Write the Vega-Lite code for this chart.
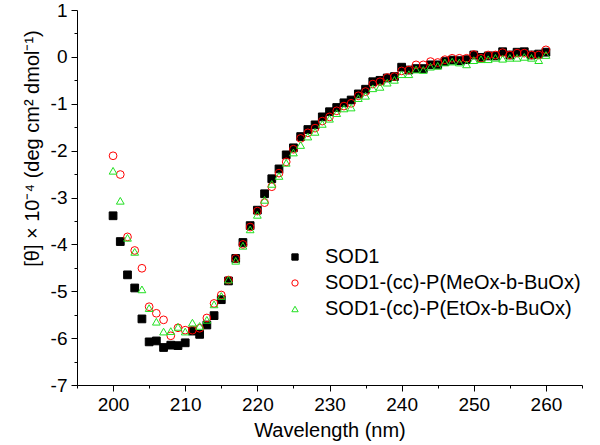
{
  "$schema": "https://vega.github.io/schema/vega-lite/v6.json",
  "width": 505,
  "height": 375,
  "autosize": {"type": "none"},
  "padding": {"left": 77, "top": 10, "right": 18, "bottom": 60},
  "background": "white",
  "config": {
    "view": {"stroke": null},
    "font": "Liberation Sans",
    "axis": {
      "domainColor": "black",
      "tickColor": "black",
      "labelColor": "black",
      "titleColor": "black",
      "labelFont": "Liberation Sans",
      "titleFont": "Liberation Sans",
      "labelFontSize": 19,
      "titleFontSize": 20,
      "titleFontWeight": "normal",
      "grid": false
    },
    "legend": {
      "orient": "none",
      "legendX": 208,
      "legendY": 237,
      "labelFontSize": 20,
      "labelFont": "Liberation Sans",
      "labelColor": "black",
      "labelOffset": 20,
      "labelLimit": 0,
      "rowPadding": 6,
      "symbolSize": 40,
      "symbolStrokeWidth": 1,
      "title": null
    }
  },
  "data": {
    "values": [
      {"w":200,"v":-3.39,"s":"SOD1"},{"w":201,"v":-3.94,"s":"SOD1"},{"w":202,"v":-4.65,"s":"SOD1"},{"w":203,"v":-4.93,"s":"SOD1"},{"w":204,"v":-5.59,"s":"SOD1"},{"w":205,"v":-6.08,"s":"SOD1"},{"w":206,"v":-6.06,"s":"SOD1"},{"w":207,"v":-6.2,"s":"SOD1"},{"w":208,"v":-6.15,"s":"SOD1"},{"w":209,"v":-6.16,"s":"SOD1"},{"w":210,"v":-6.1,"s":"SOD1"},{"w":211,"v":-5.85,"s":"SOD1"},{"w":212,"v":-5.92,"s":"SOD1"},{"w":213,"v":-5.72,"s":"SOD1"},{"w":214,"v":-5.52,"s":"SOD1"},{"w":215,"v":-5.18,"s":"SOD1"},{"w":216,"v":-4.78,"s":"SOD1"},{"w":217,"v":-4.3,"s":"SOD1"},{"w":218,"v":-3.96,"s":"SOD1"},{"w":219,"v":-3.6,"s":"SOD1"},{"w":220,"v":-3.27,"s":"SOD1"},{"w":221,"v":-2.92,"s":"SOD1"},{"w":222,"v":-2.6,"s":"SOD1"},{"w":223,"v":-2.39,"s":"SOD1"},{"w":224,"v":-2.09,"s":"SOD1"},{"w":225,"v":-1.94,"s":"SOD1"},{"w":226,"v":-1.7,"s":"SOD1"},{"w":227,"v":-1.55,"s":"SOD1"},{"w":228,"v":-1.45,"s":"SOD1"},{"w":229,"v":-1.28,"s":"SOD1"},{"w":230,"v":-1.17,"s":"SOD1"},{"w":231,"v":-1.08,"s":"SOD1"},{"w":232,"v":-0.98,"s":"SOD1"},{"w":233,"v":-0.92,"s":"SOD1"},{"w":234,"v":-0.79,"s":"SOD1"},{"w":235,"v":-0.69,"s":"SOD1"},{"w":236,"v":-0.53,"s":"SOD1"},{"w":237,"v":-0.5,"s":"SOD1"},{"w":238,"v":-0.45,"s":"SOD1"},{"w":239,"v":-0.42,"s":"SOD1"},{"w":240,"v":-0.22,"s":"SOD1"},{"w":241,"v":-0.28,"s":"SOD1"},{"w":242,"v":-0.25,"s":"SOD1"},{"w":243,"v":-0.25,"s":"SOD1"},{"w":244,"v":-0.17,"s":"SOD1"},{"w":245,"v":-0.17,"s":"SOD1"},{"w":246,"v":-0.1,"s":"SOD1"},{"w":247,"v":-0.07,"s":"SOD1"},{"w":248,"v":-0.08,"s":"SOD1"},{"w":249,"v":-0.06,"s":"SOD1"},{"w":250,"v":0.04,"s":"SOD1"},{"w":251,"v":-0.01,"s":"SOD1"},{"w":252,"v":0.02,"s":"SOD1"},{"w":253,"v":0.02,"s":"SOD1"},{"w":254,"v":0.11,"s":"SOD1"},{"w":255,"v":0.04,"s":"SOD1"},{"w":256,"v":0.1,"s":"SOD1"},{"w":257,"v":0.11,"s":"SOD1"},{"w":258,"v":0.04,"s":"SOD1"},{"w":259,"v":0.06,"s":"SOD1"},{"w":260,"v":0.1,"s":"SOD1"},
      {"w":200,"v":-2.11,"s":"SOD1-(cc)-P(MeOx-b-BuOx)"},{"w":201,"v":-2.51,"s":"SOD1-(cc)-P(MeOx-b-BuOx)"},{"w":202,"v":-3.84,"s":"SOD1-(cc)-P(MeOx-b-BuOx)"},{"w":203,"v":-4.13,"s":"SOD1-(cc)-P(MeOx-b-BuOx)"},{"w":204,"v":-4.51,"s":"SOD1-(cc)-P(MeOx-b-BuOx)"},{"w":205,"v":-5.33,"s":"SOD1-(cc)-P(MeOx-b-BuOx)"},{"w":206,"v":-5.47,"s":"SOD1-(cc)-P(MeOx-b-BuOx)"},{"w":207,"v":-5.61,"s":"SOD1-(cc)-P(MeOx-b-BuOx)"},{"w":208,"v":-5.95,"s":"SOD1-(cc)-P(MeOx-b-BuOx)"},{"w":209,"v":-5.78,"s":"SOD1-(cc)-P(MeOx-b-BuOx)"},{"w":210,"v":-5.83,"s":"SOD1-(cc)-P(MeOx-b-BuOx)"},{"w":211,"v":-5.83,"s":"SOD1-(cc)-P(MeOx-b-BuOx)"},{"w":212,"v":-5.79,"s":"SOD1-(cc)-P(MeOx-b-BuOx)"},{"w":213,"v":-5.57,"s":"SOD1-(cc)-P(MeOx-b-BuOx)"},{"w":214,"v":-5.26,"s":"SOD1-(cc)-P(MeOx-b-BuOx)"},{"w":215,"v":-5.08,"s":"SOD1-(cc)-P(MeOx-b-BuOx)"},{"w":216,"v":-4.76,"s":"SOD1-(cc)-P(MeOx-b-BuOx)"},{"w":217,"v":-4.3,"s":"SOD1-(cc)-P(MeOx-b-BuOx)"},{"w":218,"v":-4.0,"s":"SOD1-(cc)-P(MeOx-b-BuOx)"},{"w":219,"v":-3.63,"s":"SOD1-(cc)-P(MeOx-b-BuOx)"},{"w":220,"v":-3.29,"s":"SOD1-(cc)-P(MeOx-b-BuOx)"},{"w":221,"v":-3.11,"s":"SOD1-(cc)-P(MeOx-b-BuOx)"},{"w":222,"v":-2.77,"s":"SOD1-(cc)-P(MeOx-b-BuOx)"},{"w":223,"v":-2.48,"s":"SOD1-(cc)-P(MeOx-b-BuOx)"},{"w":224,"v":-2.24,"s":"SOD1-(cc)-P(MeOx-b-BuOx)"},{"w":225,"v":-1.97,"s":"SOD1-(cc)-P(MeOx-b-BuOx)"},{"w":226,"v":-1.74,"s":"SOD1-(cc)-P(MeOx-b-BuOx)"},{"w":227,"v":-1.62,"s":"SOD1-(cc)-P(MeOx-b-BuOx)"},{"w":228,"v":-1.52,"s":"SOD1-(cc)-P(MeOx-b-BuOx)"},{"w":229,"v":-1.37,"s":"SOD1-(cc)-P(MeOx-b-BuOx)"},{"w":230,"v":-1.28,"s":"SOD1-(cc)-P(MeOx-b-BuOx)"},{"w":231,"v":-1.15,"s":"SOD1-(cc)-P(MeOx-b-BuOx)"},{"w":232,"v":-1.05,"s":"SOD1-(cc)-P(MeOx-b-BuOx)"},{"w":233,"v":-0.99,"s":"SOD1-(cc)-P(MeOx-b-BuOx)"},{"w":234,"v":-0.83,"s":"SOD1-(cc)-P(MeOx-b-BuOx)"},{"w":235,"v":-0.74,"s":"SOD1-(cc)-P(MeOx-b-BuOx)"},{"w":236,"v":-0.58,"s":"SOD1-(cc)-P(MeOx-b-BuOx)"},{"w":237,"v":-0.53,"s":"SOD1-(cc)-P(MeOx-b-BuOx)"},{"w":238,"v":-0.44,"s":"SOD1-(cc)-P(MeOx-b-BuOx)"},{"w":239,"v":-0.42,"s":"SOD1-(cc)-P(MeOx-b-BuOx)"},{"w":240,"v":-0.3,"s":"SOD1-(cc)-P(MeOx-b-BuOx)"},{"w":241,"v":-0.28,"s":"SOD1-(cc)-P(MeOx-b-BuOx)"},{"w":242,"v":-0.17,"s":"SOD1-(cc)-P(MeOx-b-BuOx)"},{"w":243,"v":-0.17,"s":"SOD1-(cc)-P(MeOx-b-BuOx)"},{"w":244,"v":-0.1,"s":"SOD1-(cc)-P(MeOx-b-BuOx)"},{"w":245,"v":-0.12,"s":"SOD1-(cc)-P(MeOx-b-BuOx)"},{"w":246,"v":-0.06,"s":"SOD1-(cc)-P(MeOx-b-BuOx)"},{"w":247,"v":-0.03,"s":"SOD1-(cc)-P(MeOx-b-BuOx)"},{"w":248,"v":-0.03,"s":"SOD1-(cc)-P(MeOx-b-BuOx)"},{"w":249,"v":-0.03,"s":"SOD1-(cc)-P(MeOx-b-BuOx)"},{"w":250,"v":0.05,"s":"SOD1-(cc)-P(MeOx-b-BuOx)"},{"w":251,"v":-0.03,"s":"SOD1-(cc)-P(MeOx-b-BuOx)"},{"w":252,"v":0.04,"s":"SOD1-(cc)-P(MeOx-b-BuOx)"},{"w":253,"v":0.04,"s":"SOD1-(cc)-P(MeOx-b-BuOx)"},{"w":254,"v":0.09,"s":"SOD1-(cc)-P(MeOx-b-BuOx)"},{"w":255,"v":0.04,"s":"SOD1-(cc)-P(MeOx-b-BuOx)"},{"w":256,"v":0.08,"s":"SOD1-(cc)-P(MeOx-b-BuOx)"},{"w":257,"v":0.08,"s":"SOD1-(cc)-P(MeOx-b-BuOx)"},{"w":258,"v":0.04,"s":"SOD1-(cc)-P(MeOx-b-BuOx)"},{"w":259,"v":0.04,"s":"SOD1-(cc)-P(MeOx-b-BuOx)"},{"w":260,"v":0.15,"s":"SOD1-(cc)-P(MeOx-b-BuOx)"},
      {"w":200,"v":-2.43,"s":"SOD1-(cc)-P(EtOx-b-BuOx)"},{"w":201,"v":-3.07,"s":"SOD1-(cc)-P(EtOx-b-BuOx)"},{"w":202,"v":-3.86,"s":"SOD1-(cc)-P(EtOx-b-BuOx)"},{"w":203,"v":-4.16,"s":"SOD1-(cc)-P(EtOx-b-BuOx)"},{"w":204,"v":-4.96,"s":"SOD1-(cc)-P(EtOx-b-BuOx)"},{"w":205,"v":-5.36,"s":"SOD1-(cc)-P(EtOx-b-BuOx)"},{"w":206,"v":-5.65,"s":"SOD1-(cc)-P(EtOx-b-BuOx)"},{"w":207,"v":-5.86,"s":"SOD1-(cc)-P(EtOx-b-BuOx)"},{"w":208,"v":-5.85,"s":"SOD1-(cc)-P(EtOx-b-BuOx)"},{"w":209,"v":-5.76,"s":"SOD1-(cc)-P(EtOx-b-BuOx)"},{"w":210,"v":-5.86,"s":"SOD1-(cc)-P(EtOx-b-BuOx)"},{"w":211,"v":-5.67,"s":"SOD1-(cc)-P(EtOx-b-BuOx)"},{"w":212,"v":-5.74,"s":"SOD1-(cc)-P(EtOx-b-BuOx)"},{"w":213,"v":-5.61,"s":"SOD1-(cc)-P(EtOx-b-BuOx)"},{"w":214,"v":-5.28,"s":"SOD1-(cc)-P(EtOx-b-BuOx)"},{"w":215,"v":-5.1,"s":"SOD1-(cc)-P(EtOx-b-BuOx)"},{"w":216,"v":-4.75,"s":"SOD1-(cc)-P(EtOx-b-BuOx)"},{"w":217,"v":-4.35,"s":"SOD1-(cc)-P(EtOx-b-BuOx)"},{"w":218,"v":-4.03,"s":"SOD1-(cc)-P(EtOx-b-BuOx)"},{"w":219,"v":-3.68,"s":"SOD1-(cc)-P(EtOx-b-BuOx)"},{"w":220,"v":-3.37,"s":"SOD1-(cc)-P(EtOx-b-BuOx)"},{"w":221,"v":-3.05,"s":"SOD1-(cc)-P(EtOx-b-BuOx)"},{"w":222,"v":-2.71,"s":"SOD1-(cc)-P(EtOx-b-BuOx)"},{"w":223,"v":-2.54,"s":"SOD1-(cc)-P(EtOx-b-BuOx)"},{"w":224,"v":-2.26,"s":"SOD1-(cc)-P(EtOx-b-BuOx)"},{"w":225,"v":-2.04,"s":"SOD1-(cc)-P(EtOx-b-BuOx)"},{"w":226,"v":-1.88,"s":"SOD1-(cc)-P(EtOx-b-BuOx)"},{"w":227,"v":-1.7,"s":"SOD1-(cc)-P(EtOx-b-BuOx)"},{"w":228,"v":-1.6,"s":"SOD1-(cc)-P(EtOx-b-BuOx)"},{"w":229,"v":-1.43,"s":"SOD1-(cc)-P(EtOx-b-BuOx)"},{"w":230,"v":-1.32,"s":"SOD1-(cc)-P(EtOx-b-BuOx)"},{"w":231,"v":-1.2,"s":"SOD1-(cc)-P(EtOx-b-BuOx)"},{"w":232,"v":-1.1,"s":"SOD1-(cc)-P(EtOx-b-BuOx)"},{"w":233,"v":-1.08,"s":"SOD1-(cc)-P(EtOx-b-BuOx)"},{"w":234,"v":-0.88,"s":"SOD1-(cc)-P(EtOx-b-BuOx)"},{"w":235,"v":-0.83,"s":"SOD1-(cc)-P(EtOx-b-BuOx)"},{"w":236,"v":-0.67,"s":"SOD1-(cc)-P(EtOx-b-BuOx)"},{"w":237,"v":-0.64,"s":"SOD1-(cc)-P(EtOx-b-BuOx)"},{"w":238,"v":-0.55,"s":"SOD1-(cc)-P(EtOx-b-BuOx)"},{"w":239,"v":-0.49,"s":"SOD1-(cc)-P(EtOx-b-BuOx)"},{"w":240,"v":-0.37,"s":"SOD1-(cc)-P(EtOx-b-BuOx)"},{"w":241,"v":-0.37,"s":"SOD1-(cc)-P(EtOx-b-BuOx)"},{"w":242,"v":-0.27,"s":"SOD1-(cc)-P(EtOx-b-BuOx)"},{"w":243,"v":-0.28,"s":"SOD1-(cc)-P(EtOx-b-BuOx)"},{"w":244,"v":-0.21,"s":"SOD1-(cc)-P(EtOx-b-BuOx)"},{"w":245,"v":-0.19,"s":"SOD1-(cc)-P(EtOx-b-BuOx)"},{"w":246,"v":-0.12,"s":"SOD1-(cc)-P(EtOx-b-BuOx)"},{"w":247,"v":-0.1,"s":"SOD1-(cc)-P(EtOx-b-BuOx)"},{"w":248,"v":-0.12,"s":"SOD1-(cc)-P(EtOx-b-BuOx)"},{"w":249,"v":-0.16,"s":"SOD1-(cc)-P(EtOx-b-BuOx)"},{"w":250,"v":-0.07,"s":"SOD1-(cc)-P(EtOx-b-BuOx)"},{"w":251,"v":-0.05,"s":"SOD1-(cc)-P(EtOx-b-BuOx)"},{"w":252,"v":-0.05,"s":"SOD1-(cc)-P(EtOx-b-BuOx)"},{"w":253,"v":-0.02,"s":"SOD1-(cc)-P(EtOx-b-BuOx)"},{"w":254,"v":-0.04,"s":"SOD1-(cc)-P(EtOx-b-BuOx)"},{"w":255,"v":-0.02,"s":"SOD1-(cc)-P(EtOx-b-BuOx)"},{"w":256,"v":-0.02,"s":"SOD1-(cc)-P(EtOx-b-BuOx)"},{"w":257,"v":0.0,"s":"SOD1-(cc)-P(EtOx-b-BuOx)"},{"w":258,"v":-0.02,"s":"SOD1-(cc)-P(EtOx-b-BuOx)"},{"w":259,"v":-0.07,"s":"SOD1-(cc)-P(EtOx-b-BuOx)"},{"w":260,"v":0.04,"s":"SOD1-(cc)-P(EtOx-b-BuOx)"}
    ]
  },
  "mark": {"type": "point", "size": 60, "strokeWidth": 1, "opacity": 1},
  "encoding": {
    "x": {
      "field": "w", "type": "quantitative",
      "scale": {"domain": [195, 265], "nice": false, "zero": false},
      "axis": {
        "title": "Wavelength (nm)",
        "values": [195,200,205,210,215,220,225,230,235,240,245,250,255,260,265],
        "labelExpr": "datum.value % 10 === 0 ? '' + datum.value : ''",
        "tickSize": {"condition": {"test": "datum.value % 10 === 0", "value": 6}, "value": 3},
        "labelPadding": 4,
        "titlePadding": 6
      }
    },
    "y": {
      "field": "v", "type": "quantitative",
      "scale": {"domain": [-7, 1], "nice": false, "zero": false},
      "axis": {
        "title": "[θ] × 10⁻⁴ (deg cm² dmol⁻¹)",
        "values": [-7,-6.5,-6,-5.5,-5,-4.5,-4,-3.5,-3,-2.5,-2,-1.5,-1,-0.5,0,0.5,1],
        "labelExpr": "datum.value % 1 === 0 ? '' + datum.value : ''",
        "tickSize": {"condition": {"test": "datum.value % 1 === 0", "value": 6}, "value": 3},
        "labelPadding": 4,
        "titleY": 138,
        "titlePadding": 8
      }
    },
    "shape": {
      "field": "s", "type": "nominal",
      "scale": {
        "domain": ["SOD1", "SOD1-(cc)-P(MeOx-b-BuOx)", "SOD1-(cc)-P(EtOx-b-BuOx)"],
        "range": ["square", "circle", "triangle-up"]
      }
    },
    "color": {
      "field": "s", "type": "nominal",
      "scale": {
        "domain": ["SOD1", "SOD1-(cc)-P(MeOx-b-BuOx)", "SOD1-(cc)-P(EtOx-b-BuOx)"],
        "range": ["black", "#ff0000", "#22e022"]
      }
    },
    "fill": {
      "field": "s", "type": "nominal",
      "scale": {
        "domain": ["SOD1", "SOD1-(cc)-P(MeOx-b-BuOx)", "SOD1-(cc)-P(EtOx-b-BuOx)"],
        "range": ["black", "transparent", "transparent"]
      }
    }
  }
}
